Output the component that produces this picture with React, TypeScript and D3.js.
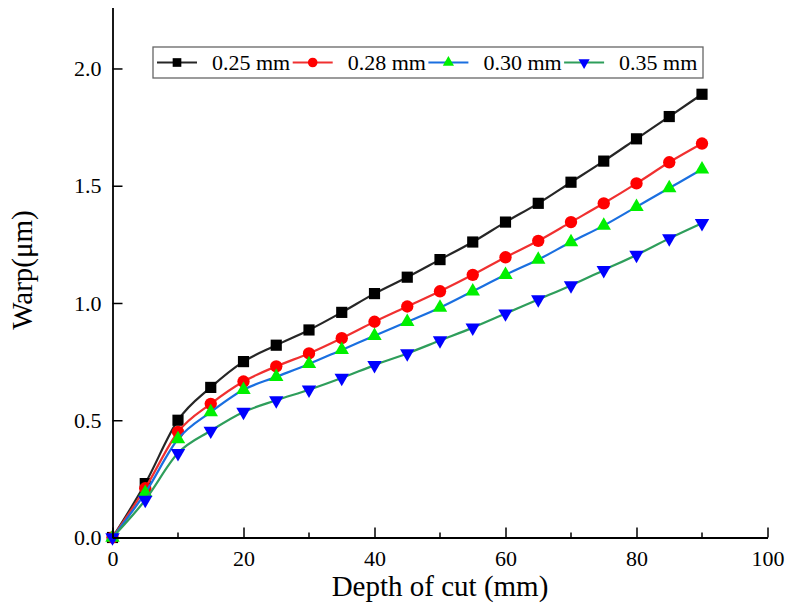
import React, { useEffect, useRef } from 'react';
import * as d3 from 'd3';

// depth of cut (mm)
const depth = [0, 5, 10, 15, 20, 25, 30, 35, 40, 45, 50, 55, 60, 65, 70, 75, 80, 85, 90];

// warp (um) per wire diameter
const warp025 = [0, 0.23, 0.5, 0.64, 0.75, 0.82, 0.885, 0.96, 1.04, 1.11, 1.185, 1.26, 1.345, 1.425, 1.515, 1.605, 1.7, 1.795, 1.89];
const warp028 = [0, 0.21, 0.45, 0.57, 0.665, 0.73, 0.785, 0.85, 0.92, 0.985, 1.05, 1.12, 1.195, 1.265, 1.345, 1.425, 1.51, 1.6, 1.68];
const warp030 = [0, 0.19, 0.42, 0.535, 0.63, 0.685, 0.74, 0.8, 0.86, 0.92, 0.98, 1.05, 1.12, 1.185, 1.26, 1.33, 1.41, 1.49, 1.57];
const warp035 = [0, 0.16, 0.36, 0.455, 0.535, 0.585, 0.63, 0.68, 0.735, 0.785, 0.84, 0.895, 0.955, 1.015, 1.075, 1.14, 1.205, 1.275, 1.34];

const seriesNames = ['0.25 mm', '0.28 mm', '0.30 mm', '0.35 mm'];
const xTicks = [0, 20, 40, 60, 80, 100];
const xMinorTicks = [10, 30, 50, 70, 90];
const yTicks = [0, 0.5, 1.0, 1.5, 2.0];

const App = () => {
    const svgRef = useRef(null);

    useEffect(() => {
        const width = 785;
        const height = 607;
        const font = '"Liberation Serif", "Times New Roman", serif';

        const svg = d3.select(svgRef.current);
        svg.selectAll('*').remove();
        svg.attr('width', width).attr('height', height);

        const x = d3.scaleLinear().domain([0, 100]).range([112.5, 767.5]);
        const y = d3.scaleLinear().domain([0, 2.26]).range([537.5, 7.5]);

        const series = [
            { name: seriesNames[0], values: warp025, line: '#262626', fill: '#000000', symbol: d3.symbolSquare, size: 125, rot: 0 },
            { name: seriesNames[1], values: warp028, line: '#f03030', fill: '#ff0000', symbol: d3.symbolCircle, size: 120, rot: 0 },
            { name: seriesNames[2], values: warp030, line: '#1a6fe0', fill: '#00f000', symbol: d3.symbolTriangle, size: 90, rot: 0 },
            { name: seriesNames[3], values: warp035, line: '#2e9e5b', fill: '#0000ff', symbol: d3.symbolTriangle, size: 90, rot: 180 },
        ];

        // lines + markers
        const line = d3.line<number>()
            .x((d, i) => x(depth[i]))
            .y(d => y(d))
            .curve(d3.curveMonotoneX);

        series.forEach(s => {
            svg.append('path')
                .attr('d', line(s.values))
                .attr('fill', 'none')
                .attr('stroke', s.line)
                .attr('stroke-width', 2.2);

            const sym = d3.symbol().type(s.symbol).size(s.size);
            svg.append('g')
                .selectAll('path')
                .data(s.values)
                .enter()
                .append('path')
                .attr('d', sym())
                .attr('transform', (d, i) => `translate(${x(depth[i])},${y(d)}) rotate(${s.rot})`)
                .attr('fill', s.fill);
        });

        // axes
        const xAxis = svg.append('g')
            .attr('transform', `translate(0,${y(0)})`)
            .call(d3.axisBottom(x).tickValues(xTicks).tickSizeInner(-10).tickSizeOuter(0).tickPadding(13).tickFormat(d3.format('d')));

        svg.append('g')
            .attr('transform', `translate(0,${y(0)})`)
            .selectAll('line')
            .data(xMinorTicks)
            .enter()
            .append('line')
            .attr('x1', d => x(d)).attr('x2', d => x(d))
            .attr('y1', 0).attr('y2', -5)
            .attr('stroke', '#000').attr('stroke-width', 1.5);

        const yAxis = svg.append('g')
            .attr('transform', `translate(${x(0)},0)`)
            .call(d3.axisLeft(y).tickValues(yTicks).tickSizeInner(-10).tickSizeOuter(0).tickPadding(11).tickFormat(d3.format('.1f')));

        [xAxis, yAxis].forEach(a => {
            a.attr('font-family', font).attr('font-size', 22);
            a.select('.domain').attr('stroke', '#000').attr('stroke-width', 1.8);
            a.selectAll('.tick line').attr('stroke', '#000').attr('stroke-width', 1.5);
            a.selectAll('.tick text')
                .style('font-family', font)
                .style('font-size', '22px')
                .attr('fill', '#000');
        });

        // axis titles
        svg.append('text')
            .attr('x', (x(0) + x(100)) / 2)
            .attr('y', 596)
            .attr('text-anchor', 'middle')
            .style('font-family', font)
            .style('font-size', '29px')
            .text('Depth of cut (mm)');

        svg.append('text')
            .attr('transform', 'translate(32,270) rotate(-90)')
            .attr('text-anchor', 'middle')
            .style('font-family', font)
            .style('font-size', '29px')
            .text('Warp(μm)');

        // legend
        const legend = svg.append('g');
        legend.append('rect')
            .attr('x', 153).attr('y', 47)
            .attr('width', 550).attr('height', 31)
            .attr('fill', '#fff')
            .attr('stroke', '#666')
            .attr('stroke-width', 1.3);

        series.forEach((s, i) => {
            const x0 = 157 + i * 135.7;
            const g = legend.append('g').attr('transform', `translate(${x0},62.5)`);
            g.append('line')
                .attr('x1', 0).attr('x2', 40)
                .attr('stroke', s.line).attr('stroke-width', 2);
            g.append('path')
                .attr('d', d3.symbol().type(s.symbol).size(s.size * 0.6)())
                .attr('transform', `translate(20,0) rotate(${s.rot})`)
                .attr('fill', s.fill);
            g.append('text')
                .attr('x', 55).attr('y', 7.5)
                .style('font-family', font)
                .style('font-size', '22px')
                .text(s.name);
        });
    }, []);

    return (
        <svg ref={svgRef} style={{ position: 'absolute', left: 0, top: 0, background: '#fff' }}></svg>
    );
};

export default App;
